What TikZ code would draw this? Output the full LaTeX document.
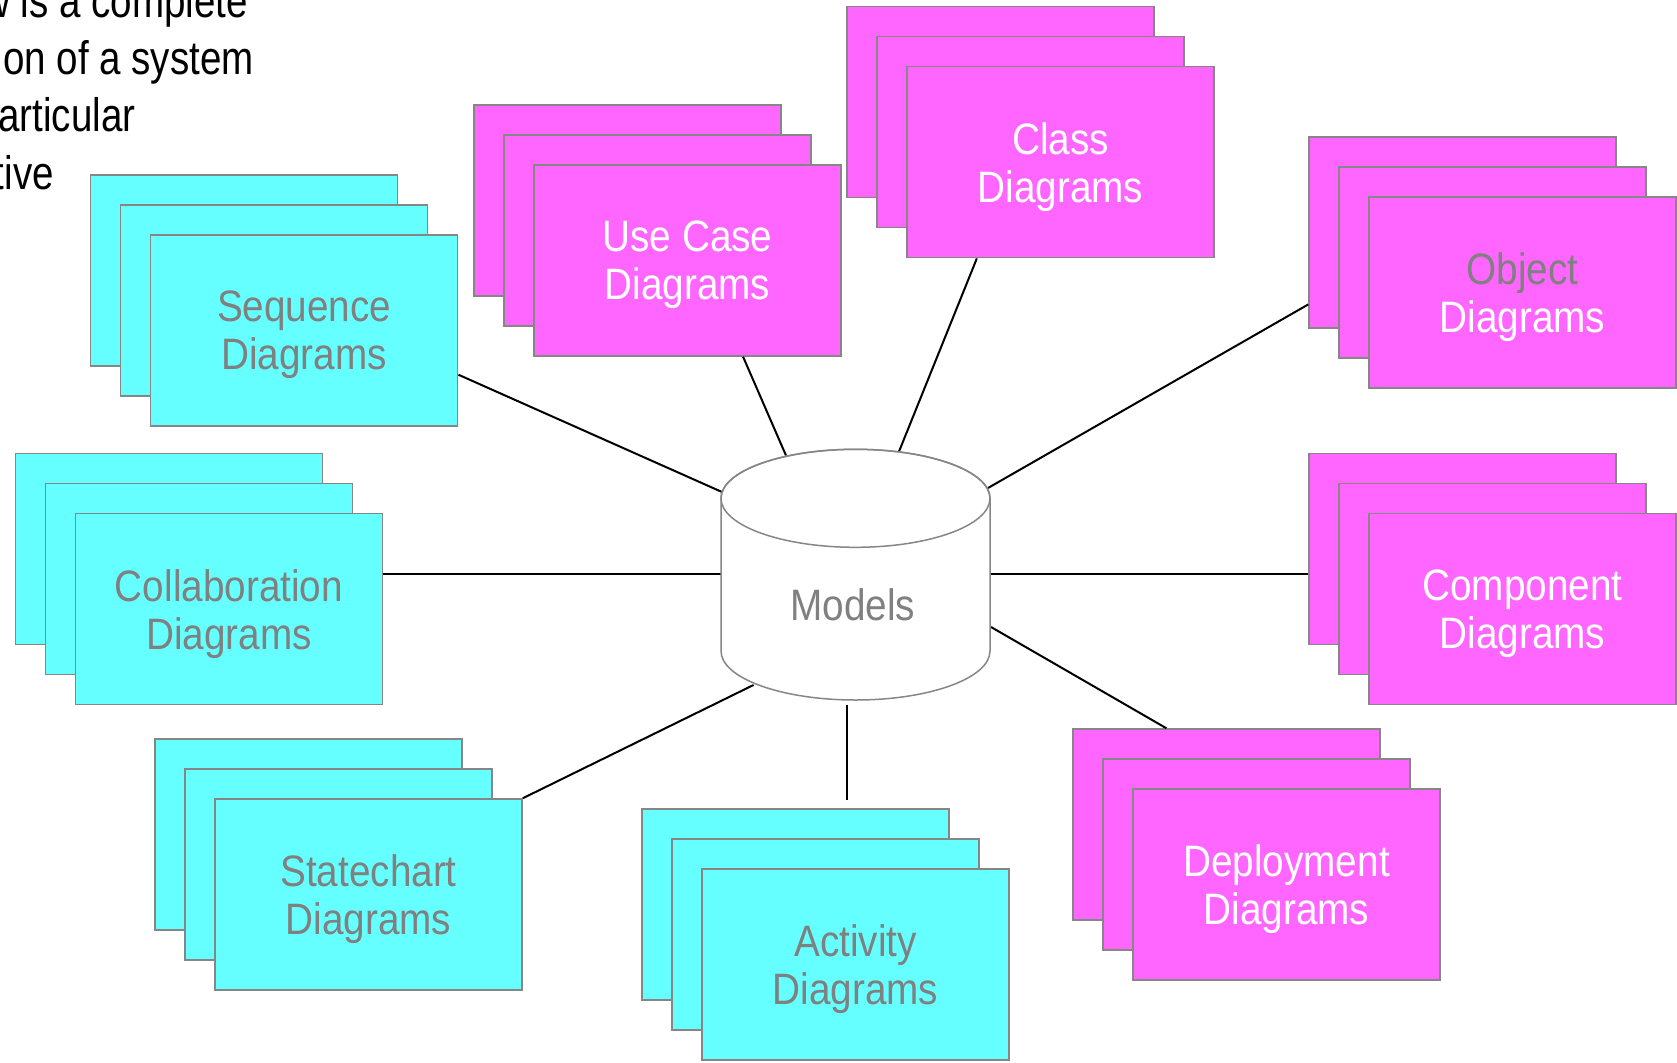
\documentclass[tikz,border=0pt]{standalone}
\usepackage{fontspec}
\setmainfont{Liberation Sans}[FakeStretch=0.88]
\newfontfamily\introfont{Liberation Sans}[FakeStretch=0.82]
\usetikzlibrary{calc}
\definecolor{cyanbox}{HTML}{66FFFF}
\definecolor{pinkbox}{HTML}{FF66FF}
\definecolor{edgegray}{HTML}{868686}
\definecolor{textgray}{HTML}{808080}

\begin{document}
\begin{tikzpicture}[x=1pt, y=-1pt,
  sheet/.style={draw=edgegray, line width=1.5pt, minimum width=307pt, minimum height=191pt,
    inner sep=0pt, align=center, text depth=0pt, font=\fontsize{44}{48}\selectfont},
  link/.style={black, line width=2pt},
  intro/.style={anchor=base east, inner sep=0pt, font=\introfont\fontsize{47}{57}\selectfont}]
  \useasboundingbox (0,0) rectangle (1677,1062);
  \clip (0,0) rectangle (1677,1062);

  % slide text, cut off at the left edge
  \node[intro] (intro1) at (248,18) {w is a complete};
  \node[intro] (intro2) at (254,74.5) {on of a system};
  \node[intro] (intro3) at (135.5,131.5) {articular};
  \node[intro] (intro4) at (54,189) {tive};

  % back sheets of every stack
  \foreach \nm/\cx/\cy/\col in {seq/304.2/330.5/cyanbox, coll/229/609.2/cyanbox,
      state/368.5/894.5/cyanbox, act/855.5/964.5/cyanbox, uc/687.5/260.5/pinkbox,
      cls/1060.5/162.2/pinkbox, obj/1522.5/292.5/pinkbox, comp/1522.5/609.2/pinkbox,
      dep/1286.5/884.5/pinkbox}{
    \node[sheet, fill=\col] (\nm-back) at (\cx-60,\cy-60) {};
    \node[sheet, fill=\col] (\nm-mid) at (\cx-30,\cy-30) {};
  }

  % front sheets
  \node[sheet, fill=cyanbox, text=textgray] (seq) at (304.2,330.5) {Sequence\\Diagrams};
  \node[sheet, fill=cyanbox, text=textgray] (coll) at (229,609.2) {Collaboration\\Diagrams};
  \node[sheet, fill=cyanbox, text=textgray] (state) at (368.5,894.5) {Statechart\\Diagrams};
  \node[sheet, fill=cyanbox, text=textgray] (act) at (855.5,964.5) {Activity\\Diagrams};
  \node[sheet, fill=pinkbox, text=white] (uc) at (687.5,260.5) {Use Case\\Diagrams};
  \node[sheet, fill=pinkbox, text=white] (cls) at (1060.5,162.2) {Class\\Diagrams};
  \node[sheet, fill=pinkbox, text=white] (obj) at (1522.5,292.5) {\textcolor{textgray}{Object}\\Diagrams};
  \node[sheet, fill=pinkbox, text=white] (comp) at (1522.5,609.2) {Component\\Diagrams};
  \node[sheet, fill=pinkbox, text=white] (dep) at (1286.5,884.5) {Deployment\\Diagrams};

  % where the links meet the store
  \coordinate (c-seq) at (722,492);
  \coordinate (c-uc) at (786,455.5);
  \coordinate (c-cls) at (899,451.5);
  \coordinate (c-obj) at (988,488);
  \coordinate (c-comp) at (990,574);
  \coordinate (c-dep) at (991,627);
  \coordinate (c-act) at (846.5,705);
  \coordinate (c-state) at (753.5,685);
  \coordinate (c-coll) at (721,574);

  \draw[link] (seq.-16) -- (c-seq);
  \draw[link] (uc.-60) -- (c-uc);
  \draw[link] (cls.-131) -- (c-cls);
  \draw[link] (obj-back.-155) -- (c-obj);
  \draw[link] (c-comp) -- (c-comp -| comp-back.west);
  \draw[link] (c-dep) -- (dep-back.122);
  \draw[link, shorten >=8pt] (c-act) -- (c-act |- act-back.north);
  \draw[link] (c-state) -- (state.north east);
  \draw[link] (c-coll) -- (c-coll -| coll.east);

  % the model store
  \filldraw[fill=white, draw=edgegray, line width=1.5pt] (721,498.3) -- (721,651)
    arc[start angle=180, end angle=0, x radius=134.5, y radius=49] -- (990,498.3)
    arc[start angle=0, end angle=-180, x radius=134.5, y radius=49] -- cycle;
  \draw[edgegray, line width=1.5pt] (855.5,498.3) ellipse[x radius=134.5, y radius=49];
  \node[anchor=base, inner sep=0pt, text=textgray, font=\fontsize{44}{48}\selectfont] (models) at (852.7,620) {Models};
\end{tikzpicture}
\end{document}
